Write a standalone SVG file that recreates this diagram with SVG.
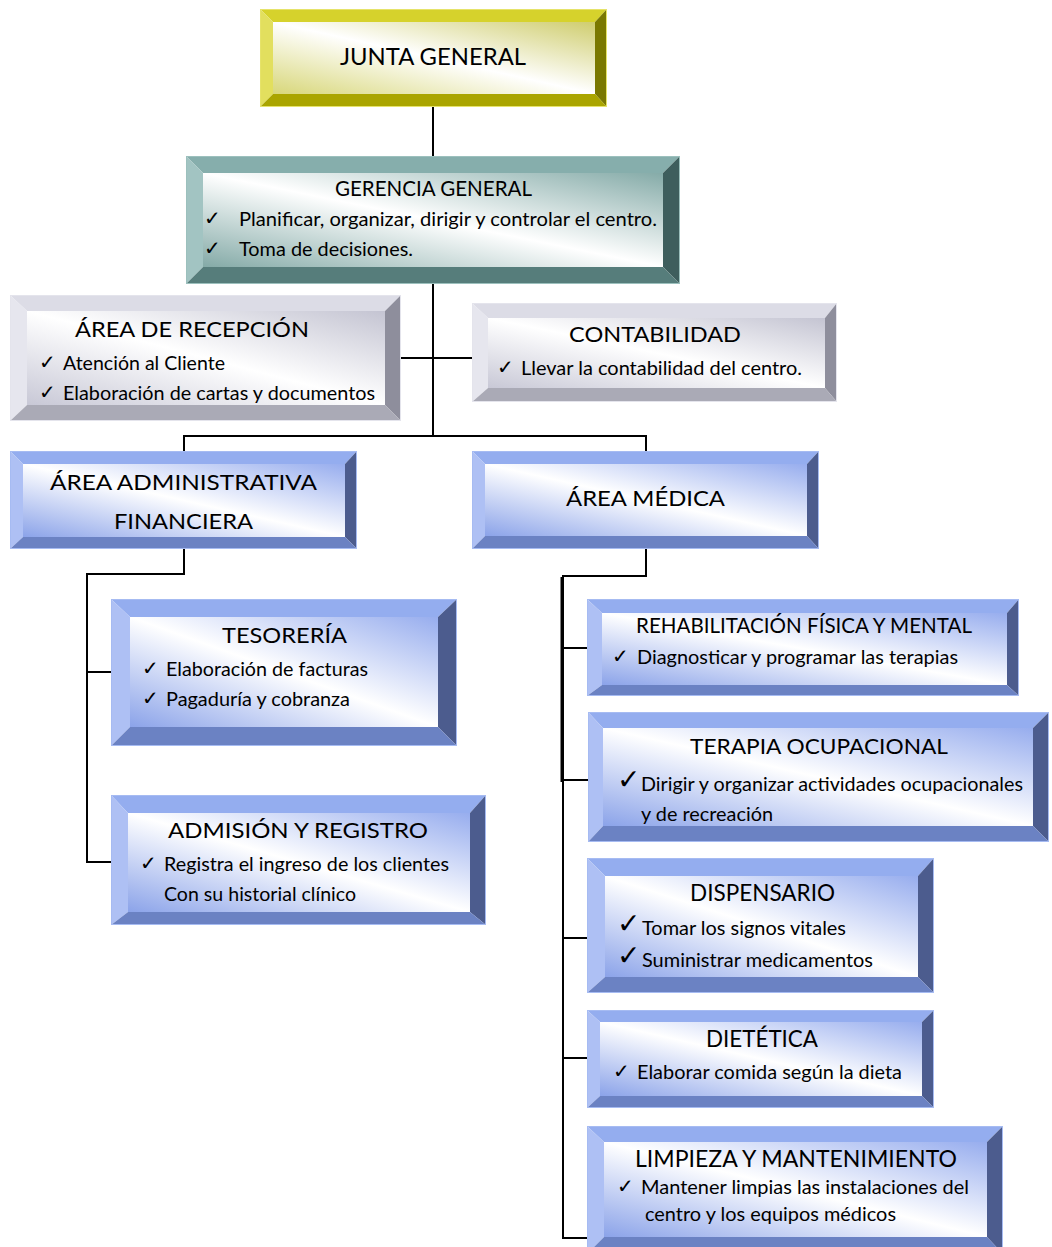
<svg xmlns="http://www.w3.org/2000/svg" width="1052" height="1247" viewBox="0 0 1052 1247">
<defs>
<linearGradient id="gY" x1="1" y1="0" x2="0" y2="1"><stop offset="0" stop-color="#cfcd6e"/><stop offset="0.5" stop-color="#ffffff"/><stop offset="1" stop-color="#d8d77a"/></linearGradient>
<linearGradient id="gT" x1="1" y1="0" x2="0" y2="1"><stop offset="0" stop-color="#85aba8"/><stop offset="0.5" stop-color="#ffffff"/><stop offset="1" stop-color="#84aaa7"/></linearGradient>
<linearGradient id="gG" x1="1" y1="0" x2="0" y2="1"><stop offset="0" stop-color="#c4c4d2"/><stop offset="0.5" stop-color="#ffffff"/><stop offset="1" stop-color="#c8c8d6"/></linearGradient>
<linearGradient id="gB" x1="1" y1="0" x2="0" y2="1"><stop offset="0" stop-color="#97adee"/><stop offset="0.5" stop-color="#ffffff"/><stop offset="1" stop-color="#8ba3e9"/></linearGradient>
</defs>
<style>
.yel .t{fill:#d6d22c}.yel .l{fill:#e2df5e}.yel .r{fill:#7a7800}.yel .b{fill:#aaa500}.yel .f{fill:url(#gY)}.yel .o{stroke:#e6e36a}
.tea .t{fill:#86aeac}.tea .l{fill:#a2c4c2}.tea .r{fill:#3e5e5d}.tea .b{fill:#567d7b}.tea .f{fill:url(#gT)}.tea .o{stroke:#9cc0bd}
.gry .t{fill:#dcdce6}.gry .l{fill:#e6e6ee}.gry .r{fill:#8e8e9c}.gry .b{fill:#aaaab6}.gry .f{fill:url(#gG)}.gry .o{stroke:#e4e4ec}
.blu .t{fill:#94adef}.blu .l{fill:#aec0f4}.blu .r{fill:#4c5c8e}.blu .b{fill:#6b82c3}.blu .f{fill:url(#gB)}.blu .o{stroke:#a6bbf2}
.o{fill:none;stroke-width:1}
text{font-family:Lato,"Open Sans","Liberation Sans",sans-serif;fill:#000}
.h{font-size:22px;text-anchor:middle}
.s{font-size:19px}
.c{font-family:"DejaVu Sans",sans-serif;font-size:20px}
.cb{font-family:"DejaVu Sans",sans-serif;font-size:28px}
.ln{fill:none;stroke:#000;stroke-width:2}
</style>
<g id="connectors">
<path class="ln" d="M433,107V156"/>
<path class="ln" d="M433,284V436"/>
<path class="ln" d="M401,358H472"/>
<path class="ln" d="M184,452V436H646V452"/>
<path class="ln" d="M184,549V574H87V862H111"/>
<path class="ln" d="M87,672H111"/>
<path class="ln" d="M646,549V576H563V1238H588"/>
<path class="ln" d="M561.5,577V782"/>
<path class="ln" d="M563,648H588"/>
<path class="ln" d="M563,780H588"/>
<path class="ln" d="M563,938H588"/>
<path class="ln" d="M563,1058H588"/>
</g>
<g id="junta" class="yel">
<polygon class="t" points="260,9 607,9 595,22 273,22"/>
<polygon class="l" points="260,9 273,22 273,94 260,107"/>
<polygon class="r" points="607,9 607,107 595,94 595,22"/>
<polygon class="b" points="260,107 273,94 595,94 607,107"/>
<rect class="f" x="273" y="22" width="322" height="72"/>
<rect class="o" x="260.5" y="9.5" width="346" height="97"/>
<text class="h" x="433" y="65" style="font-size:24px" textLength="186" lengthAdjust="spacingAndGlyphs">JUNTA GENERAL</text>
</g>
<g id="gerencia" class="tea">
<polygon class="t" points="186,156 680,156 663,173 203,173"/>
<polygon class="l" points="186,156 203,173 203,267 186,284"/>
<polygon class="r" points="680,156 680,284 663,267 663,173"/>
<polygon class="b" points="186,284 203,267 663,267 680,284"/>
<rect class="f" x="203" y="173" width="460" height="94"/>
<rect class="o" x="186.5" y="156.5" width="493" height="127"/>
<text class="h" x="433.5" y="196" style="font-size:21px" textLength="197" lengthAdjust="spacingAndGlyphs">GERENCIA GENERAL</text>
<text class="c" x="204" y="225">✓</text>
<text class="s" x="239" y="226" textLength="418" lengthAdjust="spacingAndGlyphs">Planificar, organizar, dirigir y controlar el centro.</text>
<text class="c" x="204" y="255">✓</text>
<text class="s" x="239" y="256" textLength="174" lengthAdjust="spacingAndGlyphs">Toma de decisiones.</text>
</g>
<g id="recepcion" class="gry">
<polygon class="t" points="10,295 401,295 385,311 27,311"/>
<polygon class="l" points="10,295 27,311 27,405 10,421"/>
<polygon class="r" points="401,295 401,421 385,405 385,311"/>
<polygon class="b" points="10,421 27,405 385,405 401,421"/>
<rect class="f" x="27" y="311" width="358" height="94"/>
<rect class="o" x="10.5" y="295.5" width="390" height="125"/>
<text class="h" x="192" y="337" textLength="234" lengthAdjust="spacingAndGlyphs">ÁREA DE RECEPCIÓN</text>
<text class="c" x="39" y="369">✓</text>
<text class="s" x="63" y="370" textLength="162" lengthAdjust="spacingAndGlyphs">Atención al Cliente</text>
<text class="c" x="39" y="399">✓</text>
<text class="s" x="63" y="400" textLength="312" lengthAdjust="spacingAndGlyphs">Elaboración de cartas y documentos</text>
</g>
<g id="contabilidad" class="gry">
<polygon class="t" points="472,303 837,303 825,318 488,318"/>
<polygon class="l" points="472,303 488,318 488,388 472,402"/>
<polygon class="r" points="837,303 837,402 825,388 825,318"/>
<polygon class="b" points="472,402 488,388 825,388 837,402"/>
<rect class="f" x="488" y="318" width="337" height="70"/>
<rect class="o" x="472.5" y="303.5" width="364" height="98"/>
<text class="h" x="655" y="342" textLength="172" lengthAdjust="spacingAndGlyphs">CONTABILIDAD</text>
<text class="c" x="497" y="374">✓</text>
<text class="s" x="521" y="375" textLength="281" lengthAdjust="spacingAndGlyphs">Llevar la contabilidad del centro.</text>
</g>
<g id="admin" class="blu">
<polygon class="t" points="10,451 357,451 345,464 23,464"/>
<polygon class="l" points="10,451 23,464 23,537 10,549"/>
<polygon class="r" points="357,451 357,549 345,537 345,464"/>
<polygon class="b" points="10,549 23,537 345,537 357,549"/>
<rect class="f" x="23" y="464" width="322" height="73"/>
<rect class="o" x="10.5" y="451.5" width="346" height="97"/>
<text class="h" x="183.5" y="490" textLength="267" lengthAdjust="spacingAndGlyphs">ÁREA ADMINISTRATIVA</text>
<text class="h" x="183.5" y="529" textLength="139" lengthAdjust="spacingAndGlyphs">FINANCIERA</text>
</g>
<g id="medica" class="blu">
<polygon class="t" points="472,451 819,451 807,464 485,464"/>
<polygon class="l" points="472,451 485,464 485,536 472,549"/>
<polygon class="r" points="819,451 819,549 807,536 807,464"/>
<polygon class="b" points="472,549 485,536 807,536 819,549"/>
<rect class="f" x="485" y="464" width="322" height="72"/>
<rect class="o" x="472.5" y="451.5" width="346" height="97"/>
<text class="h" x="645.5" y="506" textLength="159" lengthAdjust="spacingAndGlyphs">ÁREA MÉDICA</text>
</g>
<g id="tesoreria" class="blu">
<polygon class="t" points="111,599 457,599 438,617 130,617"/>
<polygon class="l" points="111,599 130,617 130,727 111,746"/>
<polygon class="r" points="457,599 457,746 438,727 438,617"/>
<polygon class="b" points="111,746 130,727 438,727 457,746"/>
<rect class="f" x="130" y="617" width="308" height="110"/>
<rect class="o" x="111.5" y="599.5" width="345" height="146"/>
<text class="h" x="284.5" y="643" textLength="125" lengthAdjust="spacingAndGlyphs">TESORERÍA</text>
<text class="c" x="142" y="675">✓</text>
<text class="s" x="166" y="676" textLength="202" lengthAdjust="spacingAndGlyphs">Elaboración de facturas</text>
<text class="c" x="142" y="705">✓</text>
<text class="s" x="166" y="706" textLength="184" lengthAdjust="spacingAndGlyphs">Pagaduría y cobranza</text>
</g>
<g id="admision" class="blu">
<polygon class="t" points="111,795 486,795 470,813 128,813"/>
<polygon class="l" points="111,795 128,813 128,912 111,925"/>
<polygon class="r" points="486,795 486,925 470,912 470,813"/>
<polygon class="b" points="111,925 128,912 470,912 486,925"/>
<rect class="f" x="128" y="813" width="342" height="99"/>
<rect class="o" x="111.5" y="795.5" width="374" height="129"/>
<text class="h" x="298" y="838" textLength="260" lengthAdjust="spacingAndGlyphs">ADMISIÓN Y REGISTRO</text>
<text class="c" x="140" y="870">✓</text>
<text class="s" x="164" y="871" textLength="285" lengthAdjust="spacingAndGlyphs">Registra el ingreso de los clientes</text>
<text class="s" x="164" y="901" textLength="192" lengthAdjust="spacingAndGlyphs">Con su historial clínico</text>
</g>
<g id="rehabilitacion" class="blu">
<polygon class="t" points="587,599 1019,599 1007,613 602,613"/>
<polygon class="l" points="587,599 602,613 602,685 587,696"/>
<polygon class="r" points="1019,599 1019,696 1007,685 1007,613"/>
<polygon class="b" points="587,696 602,685 1007,685 1019,696"/>
<rect class="f" x="602" y="613" width="405" height="72"/>
<rect class="o" x="587.5" y="599.5" width="431" height="96"/>
<text class="h" x="804" y="633" style="font-size:21px" textLength="336" lengthAdjust="spacingAndGlyphs">REHABILITACIÓN FÍSICA Y MENTAL</text>
<text class="c" x="612" y="663">✓</text>
<text class="s" x="637" y="664" textLength="321" lengthAdjust="spacingAndGlyphs">Diagnosticar y programar las terapias</text>
</g>
<g id="terapia" class="blu">
<polygon class="t" points="588,712 1049,712 1033,728 603,728"/>
<polygon class="l" points="588,712 603,728 603,826 588,842"/>
<polygon class="r" points="1049,712 1049,842 1033,826 1033,728"/>
<polygon class="b" points="588,842 603,826 1033,826 1049,842"/>
<rect class="f" x="603" y="728" width="430" height="98"/>
<rect class="o" x="588.5" y="712.5" width="460" height="129"/>
<text class="h" x="819" y="754" textLength="258" lengthAdjust="spacingAndGlyphs">TERAPIA OCUPACIONAL</text>
<text class="cb" x="617" y="789">✓</text>
<text class="s" x="641" y="791" textLength="382" lengthAdjust="spacingAndGlyphs">Dirigir y organizar actividades ocupacionales</text>
<text class="s" x="641" y="821" textLength="132" lengthAdjust="spacingAndGlyphs">y de recreación</text>
</g>
<g id="dispensario" class="blu">
<polygon class="t" points="587,858 934,858 918,876 605,876"/>
<polygon class="l" points="587,858 605,876 605,977 587,993"/>
<polygon class="r" points="934,858 934,993 918,977 918,876"/>
<polygon class="b" points="587,993 605,977 918,977 934,993"/>
<rect class="f" x="605" y="876" width="313" height="101"/>
<rect class="o" x="587.5" y="858.5" width="346" height="134"/>
<text class="h" x="762.5" y="901" style="font-size:23px" textLength="145" lengthAdjust="spacingAndGlyphs">DISPENSARIO</text>
<text class="cb" x="617" y="933">✓</text>
<text class="s" x="642" y="935" textLength="204" lengthAdjust="spacingAndGlyphs">Tomar los signos vitales</text>
<text class="cb" x="617" y="965">✓</text>
<text class="s" x="642" y="967" textLength="231" lengthAdjust="spacingAndGlyphs">Suministrar medicamentos</text>
</g>
<g id="dietetica" class="blu">
<polygon class="t" points="587,1010 934,1010 922,1022 600,1022"/>
<polygon class="l" points="587,1010 600,1022 600,1096 587,1108"/>
<polygon class="r" points="934,1010 934,1108 922,1096 922,1022"/>
<polygon class="b" points="587,1108 600,1096 922,1096 934,1108"/>
<rect class="f" x="600" y="1022" width="322" height="74"/>
<rect class="o" x="587.5" y="1010.5" width="346" height="97"/>
<text class="h" x="762" y="1047" style="font-size:23px" textLength="112" lengthAdjust="spacingAndGlyphs">DIETÉTICA</text>
<text class="c" x="613" y="1078">✓</text>
<text class="s" x="637" y="1079" textLength="265" lengthAdjust="spacingAndGlyphs">Elaborar comida según la dieta</text>
</g>
<g id="limpieza" class="blu">
<polygon class="t" points="587,1126 1003,1126 987,1142 604,1142"/>
<polygon class="l" points="587,1126 604,1142 604,1237 587,1254"/>
<polygon class="r" points="1003,1126 1003,1254 987,1237 987,1142"/>
<polygon class="b" points="587,1254 604,1237 987,1237 1003,1254"/>
<rect class="f" x="604" y="1142" width="383" height="95"/>
<rect class="o" x="587.5" y="1126.5" width="415" height="127"/>
<text class="h" x="796" y="1167" style="font-size:23px" textLength="322" lengthAdjust="spacingAndGlyphs">LIMPIEZA Y MANTENIMIENTO</text>
<text class="c" x="617" y="1193">✓</text>
<text class="s" x="641" y="1194" textLength="328" lengthAdjust="spacingAndGlyphs">Mantener limpias las instalaciones del</text>
<text class="s" x="645" y="1221" textLength="251" lengthAdjust="spacingAndGlyphs">centro y los equipos médicos</text>
</g>
</svg>
